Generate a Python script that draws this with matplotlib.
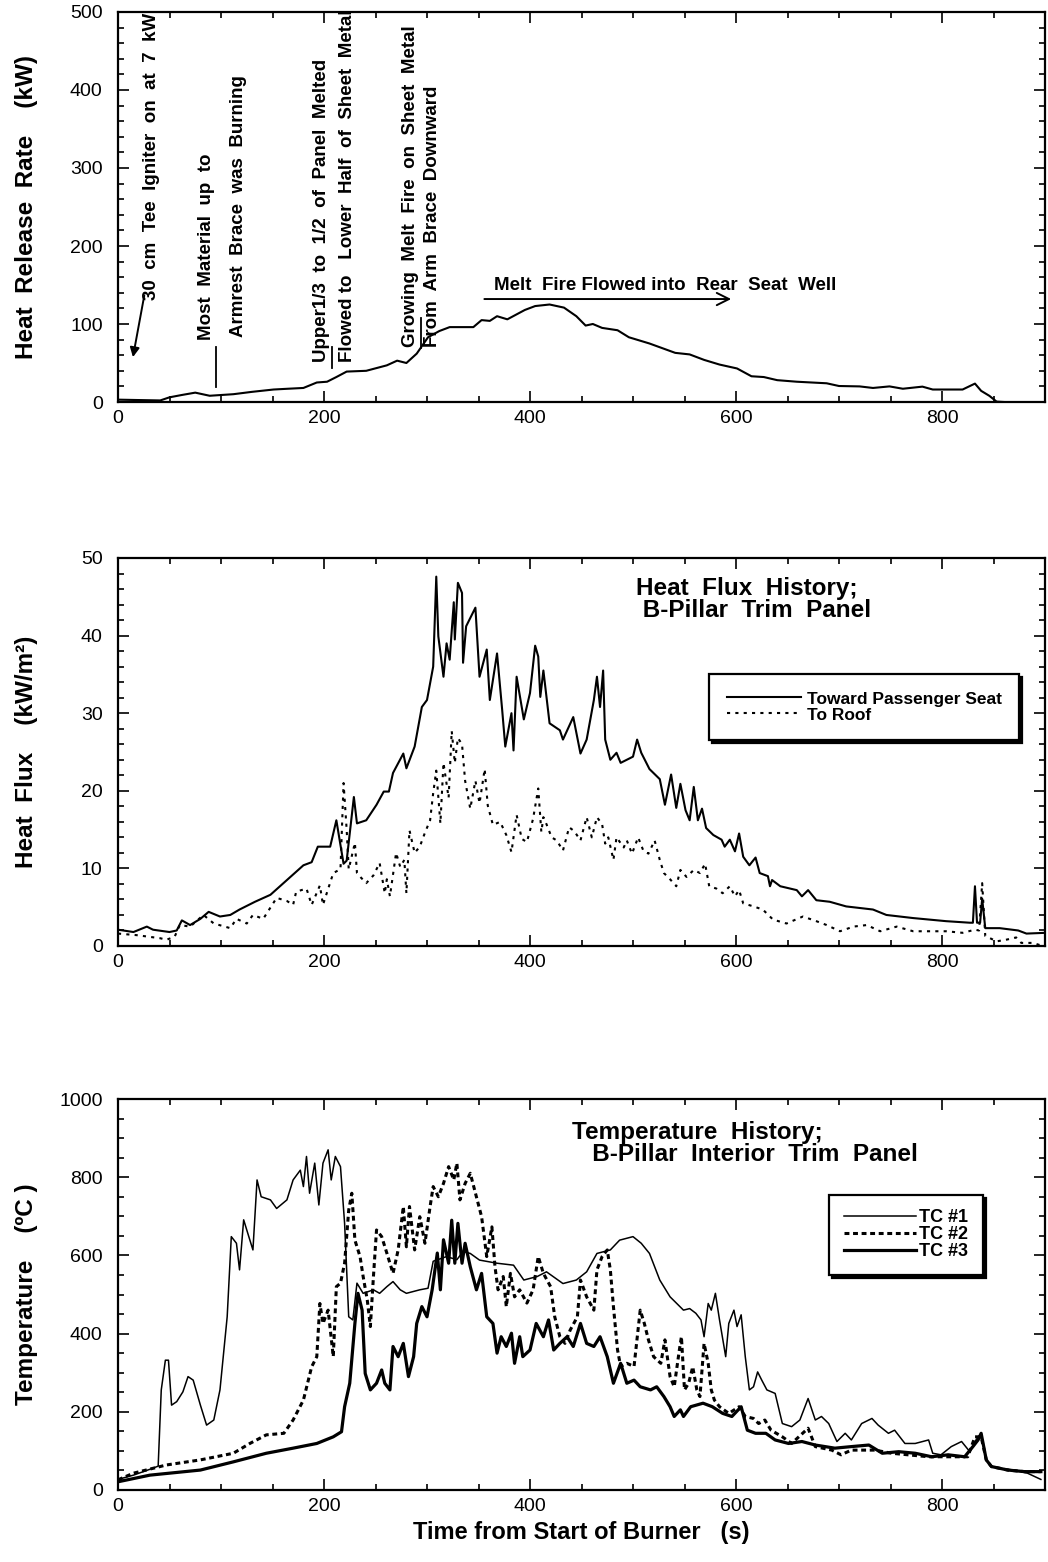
import numpy as np
import matplotlib
matplotlib.use('Agg')
import matplotlib.pyplot as plt
from matplotlib.ticker import MultipleLocator

plt.rcParams['font.family'] = ['Liberation Sans', 'DejaVu Sans']

# Panel 1: heat release rate (kW)
hrr_t = [0, 20, 41, 50, 62, 75, 89, 112, 130, 151, 165, 180, 193, 203, 212, 222, 241, 261, 271, 280,
         290, 301, 312, 322, 345, 353, 361, 368, 378, 395, 405, 419, 433, 445, 454, 461, 470, 485, 496,
         516, 541, 555, 569, 584, 601, 615, 627, 640, 659, 688, 700, 720, 733, 749, 762, 781, 791, 820,
         832, 838, 846, 853, 860]
hrr_kw = [3, 2.5, 2, 6, 9, 12, 8, 10, 13, 16, 17, 18, 25, 26, 32, 39, 40, 47, 53, 50,
          62, 83, 91, 96, 96, 105, 104, 110, 106, 118, 123, 125, 121, 110, 98, 100, 95, 92, 83,
          75, 63, 61, 54, 48, 43, 33, 32, 28, 26, 24, 20.5, 20, 18, 20, 17, 19.7, 16, 16,
          23.6, 14.3, 7.9, 0.5, 0]

# Panel 2: heat flux (kW/m2)
seat_t = [0, 15, 28, 34, 50, 57, 62, 70, 80, 88, 99, 109, 118, 133, 148, 159, 169, 180, 188, 194,
          206, 212, 219, 222, 229, 232, 241, 251, 258, 263, 267, 277, 280, 288, 295, 300, 306, 309, 311,
          316, 319, 322, 326, 327, 330, 334, 335, 338, 347, 351, 358, 361, 368, 373, 376, 382, 384, 387,
          394, 400, 405, 408, 410, 413, 419, 429, 432, 442, 449, 455, 462, 465, 468, 471, 473, 478, 484,
          488, 494, 500, 504, 508, 516, 526, 531, 537, 542, 546, 551, 555, 559, 563, 567, 571, 578, 586,
          589, 594, 599, 603, 607, 613, 619, 623, 631, 633, 635, 643, 659, 664, 670, 678, 691, 707, 733,
          746, 772, 804, 827, 830, 832, 834, 837, 839, 842, 856, 874, 882, 901]
seat_flux = [2.1, 1.8, 2.5, 2.1, 1.8, 2.0, 3.3, 2.7, 3.5, 4.4, 3.8, 4.0, 4.7, 5.7, 6.6, 7.9, 9.1, 10.4, 10.8, 12.8,
             12.8, 16.2, 10.6, 11.0, 19.2, 15.8, 16.2, 18.2, 19.9, 19.9, 22.3, 24.8, 22.9, 25.7, 30.8, 31.7, 36, 47.6, 39.9,
             34.7, 39, 36.9, 44.3, 39.5, 46.8, 45.5, 36.5, 41.2, 43.6, 34.7, 38.2, 31.7, 37.7, 30.4, 25.7, 30, 25.2, 34.7,
             29.2, 32.6, 38.7, 37.3, 32.1, 35.5, 28.7, 27.8, 26.6, 29.5, 24.8, 26.6, 31.7, 34.7, 30.8, 35.5, 26.6, 24, 24.9,
             23.6, 24, 24.4, 26.6, 24.9, 22.8, 21.5, 18.2, 22.1, 17.8, 20.9, 17.5, 16.2, 20.5, 16.2, 17.7, 15.2, 14.3, 13.7,
             12.8, 13.7, 12.2, 14.5, 11.5, 10.4, 11.4, 9.4, 9.0, 7.7, 8.5, 7.7, 7.2, 6.4, 7.2, 5.9, 5.7, 5.1, 4.7,
             4.0, 3.6, 3.2, 3.0, 3.0, 7.7, 3.0, 3.0, 6.1, 2.3, 2.3, 2.0, 1.6, 1.7]

roof_t = [0, 18, 41, 47, 55, 60, 70, 83, 93, 109, 115, 125, 131, 141, 154, 164, 170, 173, 183, 188,
          196, 199, 209, 216, 219, 222, 224, 230, 232, 236, 241, 248, 254, 259, 261, 264, 270, 274, 278,
          280, 283, 288, 293, 298, 303, 306, 309, 313, 316, 321, 324, 327, 330, 334, 337, 342, 347, 351,
          356, 359, 364, 371, 377, 382, 387, 392, 397, 403, 408, 411, 413, 416, 421, 426, 432, 438, 443,
          449, 455, 460, 465, 470, 473, 476, 481, 484, 491, 494, 499, 505, 510, 515, 521, 526, 530, 536,
          542, 546, 552, 559, 565, 570, 574, 581, 587, 594, 599, 603, 607, 617, 626, 636, 649, 665, 678,
          688, 701, 714, 727, 740, 756, 772, 788, 804, 820, 832, 836, 839, 842, 853, 862, 872, 877, 888, 898]
roof_flux = [1.6, 1.4, 1.0, 0.8, 1.2, 2.7, 2.5, 4.0, 2.9, 2.3, 3.5, 2.9, 4.0, 3.5, 6.2, 5.8, 5.3, 7.0, 7.4, 5.3,
             7.8, 5.3, 9.4, 9.9, 21.0, 15, 9.9, 13.3, 9.4, 8.8, 8.1, 9.1, 10.7, 6.8, 8.6, 6.4, 12, 10.2, 11.1,
             6.8, 14.9, 12, 12.8, 14.6, 16.2, 19.7, 22.6, 15.8, 23.6, 19.1, 27.7, 23.6, 26.8, 26, 21.3, 17.7, 21.3, 18.4,
             22.8, 18.1, 15.6, 16.0, 14.3, 12.1, 16.9, 13.8, 13.4, 16.4, 20.3, 14.7, 16.6, 15.7, 14.0, 13.6, 12.3, 15.3, 14.8,
             13.6, 16.6, 14, 16.6, 15.7, 13.2, 14.0, 11.1, 14.0, 12.7, 13.6, 11.9, 14.0, 12.3, 11.9, 13.6, 11.1, 9.4, 8.6,
             7.7, 9.8, 8.9, 9.8, 9.4, 10.6, 7.7, 7.4, 6.8, 7.7, 6.4, 7.2, 5.5, 5.1, 4.7, 3.4, 2.9, 3.8, 3.2,
             2.7, 1.9, 2.5, 2.7, 1.9, 2.5, 1.9, 1.9, 1.9, 1.7, 2.1, 2.0, 8.1, 1.3, 0.6, 0.8, 1.1, 0.4, 0.4, 0.0]

# Panel 3: temperatures (C)
tc1_t = [0, 15, 31, 39, 42, 46, 49, 52, 57, 63, 68, 73, 80, 86, 93, 99, 106, 110, 115, 118,
         122, 127, 131, 135, 139, 148, 154, 164, 170, 177, 180, 183, 186, 191, 195, 199, 204, 207, 211,
         216, 220, 224, 228, 232, 238, 248, 254, 261, 267, 274, 280, 293, 301, 306, 319, 329, 335, 342,
         351, 368, 384, 394, 407, 416, 432, 445, 455, 465, 478, 487, 500, 508, 516, 526, 536, 549, 555,
         561, 566, 569, 573, 576, 580, 584, 590, 593, 598, 601, 605, 609, 613, 617, 621, 625, 630, 638,
         645, 654, 662, 670, 677, 683, 690, 698, 706, 712, 722, 732, 738, 748, 754, 764, 774, 787, 791,
         799, 809, 819, 827, 833, 838, 843, 848, 857, 870, 883, 896]
tc1 = [27, 38, 53, 61, 256, 332, 332, 217, 226, 251, 290, 281, 217, 166, 179, 256, 443, 648, 631, 563,
       691, 648, 614, 793, 750, 742, 720, 742, 793, 818, 776, 853, 759, 836, 729, 836, 870, 793, 853,
       827, 682, 443, 435, 529, 503, 512, 503, 520, 533, 512, 503, 512, 516, 585, 597, 589, 610, 605,
       588, 580, 575, 537, 546, 558, 528, 537, 558, 605, 614, 639, 648, 631, 605, 537, 494, 460, 464,
       452, 435, 392, 477, 460, 503, 435, 341, 426, 460, 418, 448, 341, 256, 264, 302, 281, 256, 247,
       170, 162, 179, 234, 179, 188, 170, 124, 145, 128, 170, 183, 166, 145, 153, 119, 119, 128, 94,
       90, 111, 124, 98, 128, 145, 77, 60, 55, 51, 43, 27]

tc2_t = [0, 15, 47, 80, 112, 128, 144, 161, 170, 180, 188, 193, 196, 199, 204, 209, 212, 216, 220, 224,
         227, 230, 235, 238, 242, 245, 248, 251, 256, 261, 267, 272, 277, 280, 283, 288, 293, 298, 303,
         306, 311, 316, 321, 326, 329, 332, 337, 342, 348, 353, 358, 363, 366, 369, 374, 377, 381, 385,
         390, 397, 403, 408, 413, 420, 424, 429, 434, 439, 446, 449, 455, 462, 465, 470, 475, 478, 481,
         485, 488, 494, 501, 507, 511, 515, 520, 527, 531, 536, 540, 545, 547, 550, 554, 558, 562, 565,
         569, 573, 576, 579, 584, 593, 603, 609, 617, 622, 628, 634, 645, 654, 670, 677, 693, 702, 712,
         735, 751, 767, 787, 799, 825, 832, 838, 843, 848, 864, 880, 896]
tc2 = [26, 43, 64, 77, 94, 119, 141, 145, 179, 230, 315, 341, 477, 426, 460, 341, 520, 529, 580, 716,
       759, 639, 597, 546, 486, 418, 546, 665, 648, 606, 554, 614, 725, 622, 725, 614, 699, 631, 725,
       776, 750, 784, 827, 793, 836, 742, 784, 810, 750, 699, 597, 673, 571, 512, 546, 469, 554, 494,
       512, 478, 512, 597, 554, 520, 443, 392, 375, 409, 443, 537, 494, 460, 563, 597, 614, 563, 469,
       358, 316, 324, 316, 460, 426, 384, 341, 324, 384, 290, 264, 358, 392, 256, 273, 315, 256, 239,
       375, 324, 256, 230, 213, 196, 213, 188, 183, 170, 179, 153, 136, 119, 158, 111, 102, 90, 102,
       102, 94, 90, 85, 85, 85, 136, 136, 77, 60, 51, 47, 47]

tc3_t = [0, 31, 80, 112, 144, 170, 193, 209, 217, 220, 225, 230, 233, 237, 240, 245, 251, 256, 259, 264,
         267, 272, 277, 282, 287, 290, 295, 300, 305, 310, 313, 316, 321, 324, 327, 330, 334, 337, 342,
         348, 353, 358, 364, 368, 372, 377, 382, 385, 390, 393, 400, 406, 413, 418, 423, 429, 436, 442,
         449, 455, 462, 468, 475, 481, 488, 494, 501, 507, 517, 523, 530, 536, 540, 546, 549, 556, 568,
         577, 587, 596, 605, 611, 619, 629, 638, 651, 664, 677, 696, 712, 729, 742, 758, 774, 790, 806,
         822, 830, 835, 838, 843, 848, 864, 880, 896]
tc3 = [21, 38, 51, 72, 94, 107, 119, 136, 149, 213, 273, 426, 503, 460, 298, 256, 273, 307, 273, 256,
       367, 341, 375, 290, 341, 426, 469, 443, 512, 606, 512, 640, 580, 690, 580, 682, 580, 631, 571,
       512, 554, 443, 426, 350, 392, 367, 401, 324, 392, 341, 358, 426, 392, 435, 358, 375, 392, 367,
       426, 375, 367, 392, 341, 273, 324, 273, 281, 264, 256, 264, 239, 213, 188, 205, 188, 213, 222,
       213, 196, 188, 213, 153, 145, 145, 128, 119, 124, 115, 107, 111, 115, 94, 98, 94, 85, 90,
       85, 111, 128, 145, 77, 60, 51, 47, 47]

W, H = 1048, 1562
fig = plt.figure(figsize=(W / 100, H / 100), dpi=100)

def make_axes(top_px, bottom_px):
    left, right = 118, 1045
    return fig.add_axes([left / W, 1 - bottom_px / H, (right - left) / W, (bottom_px - top_px) / H])

def style(ax, ymax, ymajor, yminor):
    ax.set_xlim(0, 900)
    ax.set_ylim(0, ymax)
    ax.xaxis.set_major_locator(MultipleLocator(200))
    ax.xaxis.set_minor_locator(MultipleLocator(50))
    ax.yaxis.set_major_locator(MultipleLocator(ymajor))
    ax.yaxis.set_minor_locator(MultipleLocator(yminor))
    ax.tick_params(which='both', direction='in', top=True, right=True, width=1.2)
    ax.tick_params(which='major', length=8)
    ax.tick_params(which='minor', length=4.5)
    ax.tick_params(axis='y', pad=11, labelsize=14)
    ax.tick_params(axis='x', pad=6, labelsize=14)
    for s in ax.spines.values():
        s.set_linewidth(1.6)
    ax.yaxis.set_label_coords(-0.086, 0.5)

bold = dict(fontweight='bold')

# ---- panel 1
ax1 = make_axes(12, 402)
ax1.plot(hrr_t, hrr_kw, color='k', lw=1.5)
style(ax1, 500, 100, 20)
ax1.set_ylabel('Heat  Release  Rate    (kW)', fontsize=17.5, **bold)

notes = [(33, 131, '30  cm  Tee  Igniter  on  at  7  kW'),
         (86, 79, 'Most  Material  up  to'),
         (117, 83, 'Armrest  Brace  was  Burning'),
         (198, 51, 'Upper1/3  to  1/2  of  Panel  Melted'),
         (223, 51, 'Flowed to   Lower  Half  of  Sheet  Metal'),
         (284, 70, 'Growing  Melt  Fire  on  Sheet  Metal'),
         (305, 70, 'From  Arm  Brace  Downward')]
for x, y, s in notes:
    ax1.text(x, y, s, rotation=90, ha='center', va='bottom', fontsize=13.5, **bold)
ax1.plot([95, 95], [19, 70], color='k', lw=1.3)
ax1.plot([208, 208], [44, 70], color='k', lw=1.3)
ax1.plot([294, 294], [69, 108], color='k', lw=1.3)
ax1.annotate('', xy=(14, 54), xytext=(26, 140),
             arrowprops=dict(arrowstyle='-|>', color='k', lw=1.4, mutation_scale=14))
ax1.annotate('', xy=(598, 132), xytext=(353, 132),
             arrowprops=dict(arrowstyle='->', color='k', lw=1.4, mutation_scale=22))
ax1.text(365, 149, 'Melt  Fire Flowed into  Rear  Seat  Well', ha='left', va='center',
         fontsize=13.5, **bold)

# ---- panel 2
ax2 = make_axes(558, 946)
ax2.plot(seat_t, seat_flux, color='k', lw=1.5, label='Toward Passenger Seat')
ax2.plot(roof_t, roof_flux, color='k', lw=1.5, ls=(0, (1.5, 2.5)), label='To Roof')
style(ax2, 50, 10, 2)
ax2.set_ylabel('Heat  Flux    (kW/m²)', fontsize=17.5, **bold)
ax2.text(503, 47.6, 'Heat  Flux  History;\n B-Pillar  Trim  Panel', ha='left', va='top',
         fontsize=17.5, linespacing=0.95, **bold)
leg2 = ax2.legend(loc='upper right', bbox_to_anchor=(0.972, 0.701), borderaxespad=0,
                  frameon=True, fancybox=False,
                  edgecolor='k', framealpha=1, shadow={'color': 'k', 'alpha': 1},
                  handlelength=4.3, labelspacing=0.05, borderpad=1.0, handletextpad=0.3,
                  prop=dict(weight='bold', size=12.5))
leg2.get_frame().set_linewidth(1.6)

# ---- panel 3
ax3 = make_axes(1099, 1490)
ax3.plot(tc1_t, tc1, color='k', lw=1.1, label='TC #1')
ax3.plot(tc2_t, tc2, color='k', lw=2.2, ls=(0, (1.6, 1.2)), label='TC #2')
ax3.plot(tc3_t, tc3, color='k', lw=2.3, label='TC #3')
style(ax3, 1000, 200, 50)
ax3.set_ylabel('Temperature    (ºC )', fontsize=17.5, **bold)
ax3.set_xlabel('Time from Start of Burner   (s)', fontsize=17, labelpad=4, **bold)
ax3.text(441, 945, 'Temperature  History;\n   B-Pillar  Interior  Trim  Panel', ha='left', va='top',
         fontsize=17.5, linespacing=0.95, **bold)
leg3 = ax3.legend(loc='upper right', bbox_to_anchor=(0.933, 0.7545), borderaxespad=0,
                  frameon=True, fancybox=False,
                  edgecolor='k', framealpha=1, shadow={'color': 'k', 'alpha': 1},
                  handlelength=4.0, labelspacing=0.0, borderpad=0.8, handletextpad=0.2,
                  prop=dict(weight='bold', size=13))
leg3.get_frame().set_linewidth(1.6)

fig.savefig('out.png', dpi=100)
